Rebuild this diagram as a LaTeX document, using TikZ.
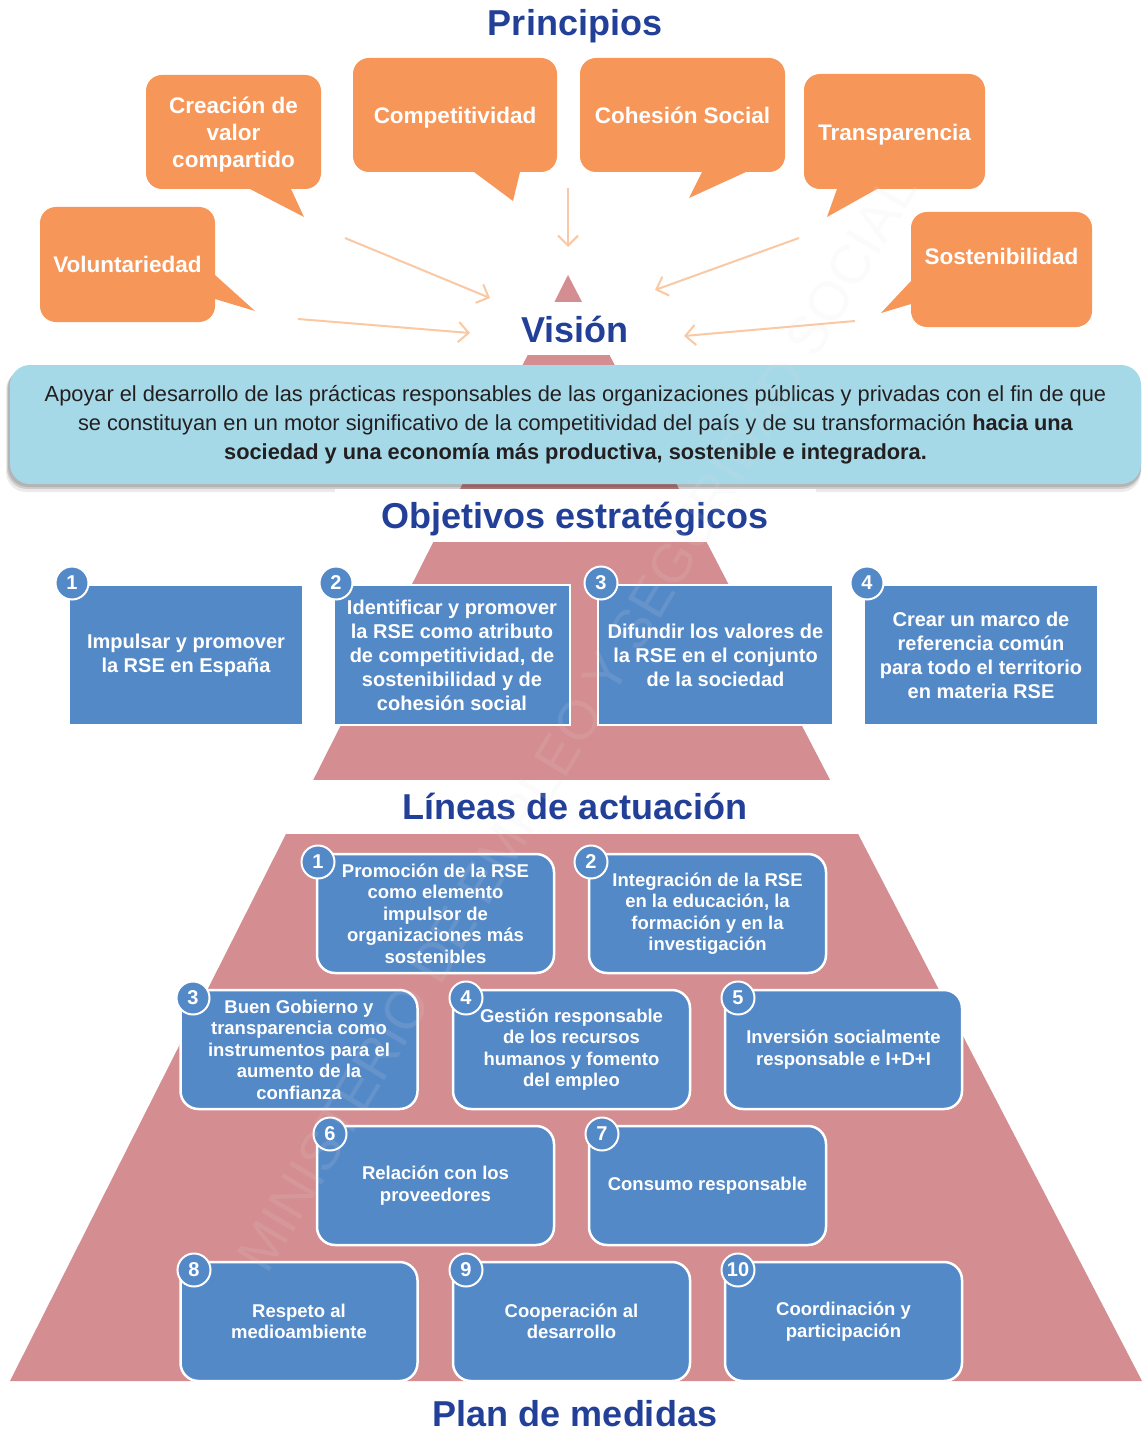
\documentclass[tikz,border=0pt]{standalone}
\usepackage{fontspec}
\setmainfont{Liberation Sans}
\usetikzlibrary{arrows.meta}
\definecolor{orng}{RGB}{247,150,89}
\definecolor{arr}{RGB}{250,200,162}
\definecolor{pyr}{RGB}{212,141,144}
\definecolor{bluebox}{RGB}{84,137,200}
\definecolor{titleblue}{RGB}{35,64,152}
\definecolor{visbox}{RGB}{166,217,232}
\definecolor{txtdark}{RGB}{35,31,32}
\begin{document}
\begin{tikzpicture}[x=1pt,y=-1pt,
  title/.style={font=\fontsize{36}{40}\selectfont\bfseries,text=titleblue,inner sep=0pt,anchor=base},
  bubble/.style={fill=orng,rounded corners=16pt,text=white,font=\fontsize{22.5}{27}\selectfont\bfseries,align=center,inner sep=0pt},
  tail/.style={fill=orng},
  arrowc/.style={draw=arr,line width=2pt,-{Straight Barb[length=10pt,width=20pt]}},
  objbox/.style={fill=bluebox,draw=white,line width=1.5pt,text=white,font=\fontsize{20}{24}\selectfont\bfseries,align=center,minimum height=140pt,inner sep=0pt},
  numc/.style={circle,fill=bluebox,draw=white,line width=2pt,text=white,font=\fontsize{20}{20}\selectfont\bfseries,minimum size=33pt,inner sep=0pt},
  linbox/.style={fill=bluebox,draw=white,line width=2.5pt,rounded corners=18pt,text=white,font=\fontsize{18.5}{21.5}\selectfont\bfseries,align=center,minimum width=237pt,minimum height=119pt,inner sep=0pt}
]
\useasboundingbox (0,0) rectangle (1142,1431);
\fill[white] (0,0) rectangle (1142,1431);

% pyramid
\fill[pyr] (568,275) -- (1142,1381) -- (10,1381) -- cycle;
\fill[white] (300,302) rectangle (850,355);

% vision box with shadow
\fill[black,opacity=0.08,rounded corners=20pt] (6,370) rectangle (1141,492);
\fill[black,opacity=0.12,rounded corners=20pt] (7,369) rectangle (1141,489);
\fill[black,opacity=0.12,rounded corners=20pt] (8,368) rectangle (1141,487);
\node[fill=visbox,rounded corners=20pt,minimum width=1131pt,minimum height=119pt,inner sep=0pt,align=center,text=txtdark,font=\fontsize{21.8}{29}\selectfont] (vb) at (575.5,424.5)
{Apoyar el desarrollo de las prácticas responsables de las organizaciones públicas y privadas con el fin de que\\
se constituyan en un motor significativo de la competitividad del país y de su transformación \textbf{hacia una}\\
\textbf{sociedad y una economía más productiva, sostenible e integradora.}};

\fill[white] (335,489) rectangle (816,542);
\fill[white] (0,780) rectangle (1142,834);

% titles
\node[title] (tp) at (575,36) {Principios};
\node[title] (tv) at (575,342) {Visión};
\node[title] (to) at (575,528) {Objetivos estratégicos};
\node[title] (tl) at (575,819) {Líneas de actuación};
\node[title] (tm) at (575,1426) {Plan de medidas};

% bubbles
\fill[tail] (250,180) -- (250,189) -- (304,217) -- (291,189) -- (291,180) -- cycle;
\node[bubble,minimum width=175pt,minimum height=114pt] (b1) at (233.5,132) {\raisebox{-3pt}[\height][\depth]{Creación de}\\\raisebox{-3pt}[\height][\depth]{valor}\\\raisebox{-3pt}[\height][\depth]{compartido}};
\fill[tail] (205,275) -- (215,275) -- (255,311) -- (215,299) -- (205,299) -- cycle;
\node[bubble,minimum width=175pt,minimum height=115pt] (b2) at (127.5,264.5) {Voluntariedad};
\fill[tail] (474,165) -- (474,172) -- (513,201) -- (520,172) -- (520,165) -- cycle;
\node[bubble,minimum width=204pt,minimum height=114pt] (b3) at (455,115) {\raisebox{-3pt}[\height][\depth]{Competitividad}};
\fill[tail] (702,165) -- (702,172) -- (689,198) -- (746,172) -- (746,165) -- cycle;
\node[bubble,minimum width=205pt,minimum height=114pt] (b4) at (682.5,115) {Cohesión Social};
\fill[tail] (837,182) -- (837,189) -- (827,217) -- (877,189) -- (877,182) -- cycle;
\node[bubble,minimum width=181pt,minimum height=115pt] (b5) at (894.5,131.5) {\raisebox{-3pt}[\height][\depth]{Transparencia}};
\fill[tail] (921,281) -- (911,281) -- (881,313) -- (911,304) -- (921,304) -- cycle;
\node[bubble,minimum width=181pt,minimum height=115pt] (b6) at (1001.5,269.5) {\raisebox{13pt}[\height][\depth]{Sostenibilidad}};

% arrows towards Vision
\coordinate (a1s) at (345,238); \coordinate (a1e) at (490,298);
\coordinate (a2s) at (298,319); \coordinate (a2e) at (470,333);
\coordinate (a3s) at (568,188); \coordinate (a3e) at (568,247);
\coordinate (a4s) at (799,238); \coordinate (a4e) at (655,290);
\coordinate (a5s) at (855,321); \coordinate (a5e) at (684,336);
\draw[arrowc] (a1s) -- (a1e);
\draw[arrowc] (a2s) -- (a2e);
\draw[arrowc] (a3s) -- (a3e);
\draw[arrowc] (a4s) -- (a4e);
\draw[arrowc] (a5s) -- (a5e);

% objectives
\node[objbox,minimum width=234pt] (o1) at (186,655) {Impulsar y promover\\la RSE en España};
\node[objbox,minimum width=236pt] (o2) at (452,655) {Identificar y promover\\la RSE como atributo\\de competitividad, de\\sostenibilidad y de\\cohesión social};
\node[objbox,minimum width=235pt] (o3) at (715.5,655) {Difundir los valores de\\la RSE en el conjunto\\de la sociedad};
\node[objbox,minimum width=234pt] (o4) at (981,655) {Crear un marco de\\referencia común\\para todo el territorio\\en materia RSE};
\node[numc] (n1) at (72,583) {1};
\node[numc] (n2) at (336,583) {2};
\node[numc] (n3) at (601,583) {3};
\node[numc] (n4) at (867,583) {4};

% lines of action
\node[linbox] (l1) at (435.5,913.5) {Promoción de la RSE\\como elemento\\impulsor de\\organizaciones más\\sostenibles};
\node[linbox] (l2) at (707.5,913.5) {Integración de la RSE\\en la educación, la\\formación y en la\\investigación};
\node[linbox] (l3) at (299,1049.5) {Buen Gobierno y\\transparencia como\\instrumentos para el\\aumento de la\\confianza};
\node[linbox] (l4) at (571.5,1049.5) {Gestión responsable\\de los recursos\\humanos y fomento\\del empleo};
\node[linbox] (l5) at (843.5,1049.5) {Inversión socialmente\\responsable e I+D+I};
\node[linbox] (l6) at (435.5,1185.5) {Relación con los\\proveedores};
\node[linbox] (l7) at (707.5,1185.5) {Consumo responsable};
\node[linbox] (l8) at (299,1321.5) {Respeto al\\medioambiente};
\node[linbox] (l9) at (571.5,1321.5) {Cooperación al\\desarrollo};
\node[linbox] (l10) at (843.5,1321.5) {Coordinación y\\participación};
\node[numc] (m1) at (318,862) {1};
\node[numc] (m2) at (591,862) {2};
\node[numc] (m3) at (193,998) {3};
\node[numc] (m4) at (466,998) {4};
\node[numc] (m5) at (738,998) {5};
\node[numc] (m6) at (330,1134) {6};
\node[numc] (m7) at (602,1134) {7};
\node[numc] (m8) at (194,1270) {8};
\node[numc] (m9) at (466,1270) {9};
\node[numc] (m10) at (738,1270) {10};

% faint watermark
\node[rotate=59.1,text=black!12,opacity=0.12,font=\fontsize{55}{55}\selectfont,inner sep=0pt] (wm) at (577,722) {MINISTERIO DE EMPLEO Y SEGURIDAD SOCIAL};
\end{tikzpicture}
\end{document}
